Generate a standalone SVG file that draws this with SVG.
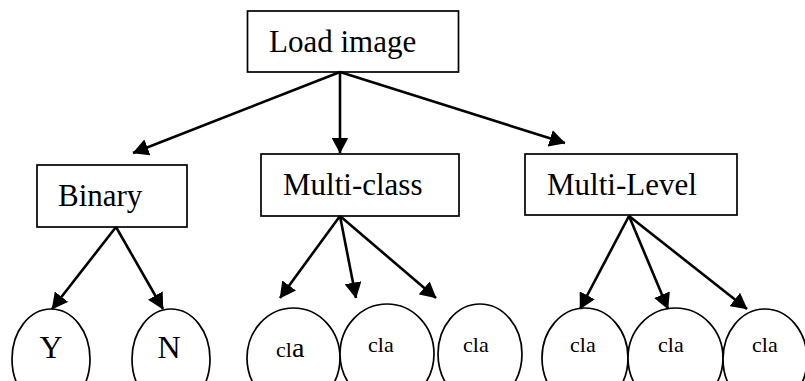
<svg xmlns="http://www.w3.org/2000/svg" width="805" height="381" viewBox="0 0 805 381">
  <style>
    .box { fill: #fff; stroke: #000; stroke-width: 1.7; }
    .leaf { fill: #fff; stroke: #000; stroke-width: 1.7; }
    .lbl { font-family: "Liberation Serif", "Times New Roman", serif; font-size: 31px; fill: #000; }
    .yn { font-family: "Liberation Serif", "Times New Roman", serif; font-size: 32px; fill: #000; text-anchor: middle; }
    .cls { font-family: "Liberation Serif", "Times New Roman", serif; font-size: 22px; fill: #000; }
    .edge { stroke: #000; stroke-width: 2.6; fill: none; marker-end: url(#arrow); }
  </style>
  <defs>
    <marker id="arrow" viewBox="0 0 16 17" refX="15.5" refY="8.5" markerWidth="16" markerHeight="17" markerUnits="userSpaceOnUse" orient="auto">
      <path d="M0,0 L16,8.5 L0,17 z" fill="#000"/>
    </marker>
  </defs>
  <rect width="805" height="381" fill="#fff"/>

  <!-- leaf ellipses (drawn first so neighbours overlap cleanly) -->
  <g id="leaf-y"><ellipse class="leaf" cx="51" cy="359" rx="39" ry="50"/><text class="yn" x="51" y="358">Y</text></g>
  <g id="leaf-n"><ellipse class="leaf" cx="171" cy="359" rx="39" ry="50"/><text class="yn" x="169" y="358">N</text></g>

  <g id="mc-1"><ellipse class="leaf" cx="293.5" cy="358" rx="46.5" ry="50"/><text class="cls" x="276" y="357">cl<tspan font-size="28">a</tspan></text></g>
  <g id="mc-2"><ellipse class="leaf" cx="387" cy="354" rx="47" ry="50"/><text class="cls" x="368" y="352">cla</text></g>
  <g id="mc-3"><ellipse class="leaf" cx="480" cy="354" rx="42" ry="50"/><text class="cls" x="463" y="352">cla</text></g>

  <g id="ml-1"><ellipse class="leaf" cx="585" cy="358" rx="43" ry="50"/><text class="cls" x="570" y="352">cla</text></g>
  <g id="ml-2"><ellipse class="leaf" cx="675.5" cy="358" rx="47.5" ry="50"/><text class="cls" x="658" y="352">cla</text></g>
  <g id="ml-3"><ellipse class="leaf" cx="765" cy="359" rx="42" ry="50"/><text class="cls" x="752" y="352">cla</text></g>

  <!-- boxes -->
  <g id="load-image"><rect class="box" x="247.5" y="11" width="211" height="61"/><text class="lbl" x="269" y="52">Load image</text></g>
  <g id="binary"><rect class="box" x="37" y="165" width="150" height="62"/><text class="lbl" x="58" y="206">Binary</text></g>
  <g id="multi-class"><rect class="box" x="261" y="154" width="198" height="62"/><text class="lbl" x="283" y="195">Multi-class</text></g>
  <g id="multi-level"><rect class="box" x="525" y="154" width="212" height="61"/><text class="lbl" x="547" y="195">Multi-Level</text></g>

  <!-- connectors -->
  <g id="connectors">
    <line class="edge" x1="340" y1="72" x2="133" y2="153"/>
    <line class="edge" x1="340" y1="72" x2="340" y2="153"/>
    <line class="edge" x1="340" y1="72" x2="565" y2="143"/>
    <line class="edge" x1="116" y1="227" x2="52" y2="309"/>
    <line class="edge" x1="116" y1="227" x2="163" y2="309"/>
    <line class="edge" x1="340" y1="216" x2="280" y2="298"/>
    <line class="edge" x1="340" y1="216" x2="356" y2="298"/>
    <line class="edge" x1="340" y1="216" x2="436" y2="298"/>
    <line class="edge" x1="629" y1="216" x2="580" y2="309"/>
    <line class="edge" x1="629" y1="216" x2="668" y2="309"/>
    <line class="edge" x1="629" y1="216" x2="747" y2="309"/>
  </g>
</svg>
